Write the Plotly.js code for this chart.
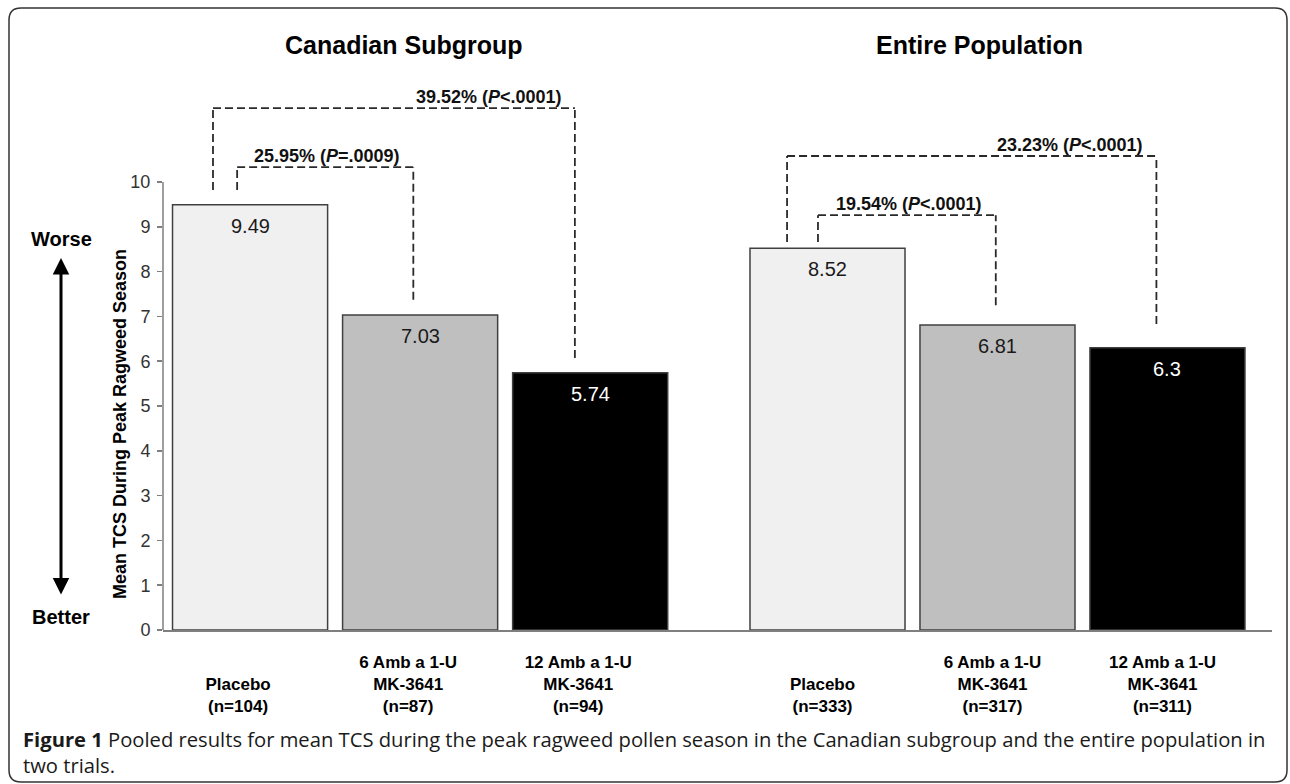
<!DOCTYPE html>
<html>
<head>
<meta charset="utf-8">
<script src="https://cdn.plot.ly/plotly-3.0.1.min.js"></script>
<style>
  html, body { margin: 0; padding: 0; background: #ffffff; }
  #chart { width: 1290px; height: 784px; }
</style>
</head>
<body>
<div id="chart"></div>
<script>
// ---------------- DATA ----------------
const groupTitles = ['Canadian Subgroup', 'Entire Population'];
const categoryIds = ['Placebo', '6 Amb a 1-U MK-3641', '12 Amb a 1-U MK-3641'];
const categoryLines = [['&nbsp;', 'Placebo'], ['6 Amb a 1-U', 'MK-3641'], ['12 Amb a 1-U', 'MK-3641']];
const canadianValues = [9.49, 7.03, 5.74];
const entireValues = [8.52, 6.81, 6.3];
const canadianN = [104, 87, 94];
const entireN = [333, 317, 311];
const yTickValues = [0, 1, 2, 3, 4, 5, 6, 7, 8, 9, 10];

// comparisons: [from, to] category indices
const comparisonPairs = [[0, 1], [0, 2]];
const canadianPct = ['25.95%', '39.52%'];
const canadianP = ['=.0009', '&lt;.0001'];
const entirePct = ['19.54%', '23.23%'];
const entireP = ['&lt;.0001', '&lt;.0001'];
// bracket heights (y units)
const canadianBracketTop = [10.33, 11.65];
const canadianBracketLeftEnd = [9.82, 9.82];
const canadianBracketRightEnd = [7.37, 6.07];
const entireBracketTop = [9.26, 10.58];
const entireBracketLeftEnd = [8.66, 8.66];
const entireBracketRightEnd = [7.25, 6.83];

const yAxisTitle = 'Mean TCS During Peak Ragweed Season';
const captionLine1 = '<b>Figure 1</b> Pooled results for mean TCS during the peak ragweed pollen season in the Canadian subgroup and the entire population in';
const captionLine2 = 'two trials.';

// ---------------- STYLE ----------------
const W = 1290, H = 784;
const px = x => x / W;
const py = y => 1 - y / H;
const FONT = 'Liberation Sans, Arial, sans-serif';
const barColors = ['#f0f0f0', '#bfbfbf', '#000000'];
const valueColors = ['#1a1a1a', '#1a1a1a', '#ffffff'];
const axisGray = '#7f7f7f';
// bracket end offsets along x (category units), per group, per comparison
const bracketOffsets = [
  [[-0.076, -0.04], [-0.218, -0.09]],
  [[-0.056, -0.01], [-0.238, -0.065]]
];

const groups = [
  { xa: 'x', values: canadianValues, n: canadianN, pct: canadianPct, p: canadianP,
    top: canadianBracketTop, le: canadianBracketLeftEnd, re: canadianBracketRightEnd },
  { xa: 'x2', values: entireValues, n: entireN, pct: entirePct, p: entireP,
    top: entireBracketTop, le: entireBracketLeftEnd, re: entireBracketRightEnd }
];

const traces = groups.map(g => ({
  type: 'bar',
  x: categoryIds,
  y: g.values,
  xaxis: g.xa,
  yaxis: 'y',
  marker: { color: barColors, line: { color: '#404040', width: 1.5 } },
  hoverinfo: 'skip'
}));

const annotations = [];
const shapes = [];

groups.forEach((g, gi) => {
  // value labels inside bars
  g.values.forEach((v, i) => {
    annotations.push({
      xref: g.xa, yref: 'y', x: categoryIds[i], y: v, yshift: -21,
      text: String(v), showarrow: false, xanchor: 'center', yanchor: 'middle',
      font: { family: FONT, size: 20, color: valueColors[i] }
    });
  });
  // comparison brackets
  comparisonPairs.forEach((pair, ci) => {
    const off = bracketOffsets[gi][ci];
    const xl = pair[0] + off[0];
    const xr = pair[1] + off[1];
    const line = { color: '#2a2a2a', width: 1.8, dash: '8px,4px' };
    shapes.push({ type: 'line', xref: g.xa, yref: 'y', x0: xl, x1: xl, y0: g.le[ci], y1: g.top[ci], line });
    shapes.push({ type: 'line', xref: g.xa, yref: 'y', x0: xl, x1: xr, y0: g.top[ci], y1: g.top[ci], line });
    shapes.push({ type: 'line', xref: g.xa, yref: 'y', x0: xr, x1: xr, y0: g.re[ci], y1: g.top[ci], line });
    const label = '<b>' + g.pct[ci] + ' (<i>P</i>' + g.p[ci] + ')</b>';
    const outer = ci === 1;
    annotations.push({
      xref: g.xa, yref: 'y', x: outer ? xr : (xl + xr) / 2, y: g.top[ci],
      xanchor: outer ? 'right' : 'center', yanchor: 'bottom',
      xshift: outer ? -11 : 2, yshift: -1,
      text: label, showarrow: false,
      font: { family: FONT, size: 18, color: '#111111' }
    });
  });
});

// subplot titles
const titleX = [404, 979];
groupTitles.forEach((t, i) => {
  annotations.push({
    xref: 'paper', yref: 'paper', x: px(titleX[i]), y: py(45),
    text: '<b>' + t + '</b>', showarrow: false, xanchor: 'center', yanchor: 'middle',
    font: { family: FONT, size: 25, color: '#000000' }
  });
});

// y axis title
annotations.push({
  xref: 'paper', yref: 'paper', x: px(120), y: py(424),
  text: '<b>' + yAxisTitle + '</b>', textangle: -90, showarrow: false,
  xanchor: 'center', yanchor: 'middle',
  font: { family: FONT, size: 18, color: '#000000' }
});

// Worse / Better with double arrow
annotations.push({
  xref: 'paper', yref: 'paper', x: px(61), y: py(239), text: '<b>Worse</b>', showarrow: false,
  xanchor: 'center', yanchor: 'middle',
  font: { family: FONT, size: 20, color: '#000000' }
});
annotations.push({
  xref: 'paper', yref: 'paper', x: px(61), y: py(617), text: '<b>Better</b>', showarrow: false,
  xanchor: 'center', yanchor: 'middle',
  font: { family: FONT, size: 20, color: '#000000' }
});
annotations.push({
  xref: 'paper', yref: 'paper', x: px(61), y: py(258), ax: 0, ay: 338,
  text: '', showarrow: true, arrowside: 'end+start', arrowhead: 2, arrowsize: 1.1,
  arrowwidth: 3, arrowcolor: '#000000', standoff: 0, startstandoff: 0
});

// caption
annotations.push({
  xref: 'paper', yref: 'paper', x: px(21), y: py(739), xanchor: 'left', yanchor: 'middle',
  text: captionLine1, showarrow: false, align: 'left',
  font: { family: 'Open Sans, sans-serif', size: 20.2, color: '#1a1a1a' }
});
annotations.push({
  xref: 'paper', yref: 'paper', x: px(21), y: py(765), xanchor: 'left', yanchor: 'middle',
  text: captionLine2, showarrow: false, align: 'left',
  font: { family: 'Open Sans, sans-serif', size: 20.2, color: '#1a1a1a' }
});

// y axis line from 0 to 10 only
shapes.push({
  type: 'line', xref: 'x domain', yref: 'y', x0: 0, x1: 0, y0: 0, y1: 10,
  line: { color: axisGray, width: 1.5 }
});

// rounded outer frame
(function () {
  const x0 = px(9), x1 = px(1287), yt = py(8), yb = py(782);
  const rx = 12 / W, ry = 12 / H;
  const path = `M ${x0 + rx},${yt} L ${x1 - rx},${yt} Q ${x1},${yt} ${x1},${yt - ry} ` +
    `L ${x1},${yb + ry} Q ${x1},${yb} ${x1 - rx},${yb} L ${x0 + rx},${yb} ` +
    `Q ${x0},${yb} ${x0},${yb + ry} L ${x0},${yt - ry} Q ${x0},${yt} ${x0 + rx},${yt} Z`;
  shapes.push({ type: 'path', xref: 'paper', yref: 'paper', path, line: { color: '#333333', width: 1.5 } });
})();

function tickTexts(nArr) {
  return categoryLines.map((lines, i) =>
    lines.map(s => '<b>' + s + '</b>').join('<br>') + '<br><b>(n=' + nArr[i] + ')</b>');
}

const xBase = {
  type: 'category',
  showline: true, linecolor: axisGray, linewidth: 1.5,
  ticks: '', showgrid: false, zeroline: false, fixedrange: true,
  tickmode: 'array', tickvals: categoryIds,
  tickfont: { family: FONT, size: 17, color: '#000000' },
  ticklabelstandoff: 16,
  anchor: 'y'
};

const layout = {
  width: W, height: H,
  margin: { l: 0, r: 0, t: 0, b: 0, pad: 0 },
  paper_bgcolor: '#ffffff', plot_bgcolor: 'rgba(0,0,0,0)',
  showlegend: false,
  bargap: 0.088,
  xaxis: Object.assign({}, xBase, {
    domain: [px(163), px(682)], range: [-0.512, 2.54],
    ticktext: tickTexts(canadianN), ticklabelshift: -12
  }),
  xaxis2: Object.assign({}, xBase, {
    domain: [px(682), px(1272)], range: [-0.856, 2.615],
    ticktext: tickTexts(entireN), ticklabelshift: -5
  }),
  yaxis: {
    domain: [py(630), py(92.4)], range: [0, 12],
    tickmode: 'array', tickvals: yTickValues,
    ticks: 'outside', ticklen: 5, tickwidth: 1.5, tickcolor: axisGray,
    showline: false, showgrid: false, zeroline: false, fixedrange: true,
    tickfont: { family: FONT, size: 18, color: '#333333' },
    ticklabelstandoff: 3,
    anchor: 'x'
  },
  annotations, shapes
};

Plotly.newPlot('chart', traces, layout, { staticPlot: true, displayModeBar: false });
</script>
</body>
</html>
